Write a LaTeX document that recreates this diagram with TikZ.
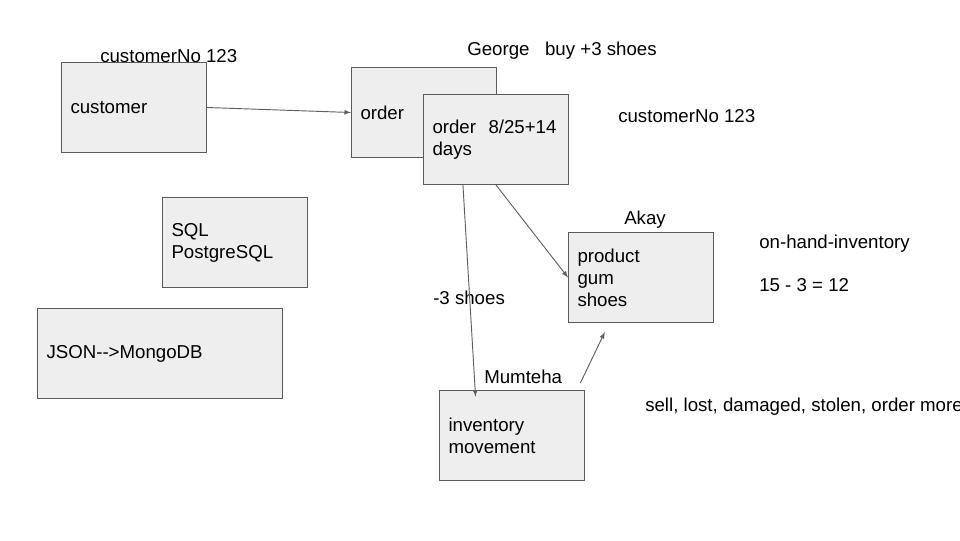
\documentclass[tikz,border=0pt]{standalone}
\usepackage{fontspec}
\setmainfont{Liberation Sans}
\definecolor{boxfill}{RGB}{238,238,238}
\definecolor{boxline}{RGB}{89,89,89}
\definecolor{arrline}{RGB}{95,95,95}
\begin{document}
\begin{tikzpicture}[x=0.75pt,y=-0.75pt,
  every node/.style={font=\fontsize{14}{16.5}\selectfont},
  box/.style={draw=boxline,fill=boxfill,line width=0.75pt,anchor=north west,
    minimum width=108.75pt,minimum height=67.5pt,text width=95.25pt,
    inner xsep=6.75pt,align=left},
  lbl/.style={anchor=base west,inner sep=0pt},
  arr/.style={draw=arrline,line width=0.7pt,-latex}]
      \useasboundingbox (0,0) rectangle (960,540);
      \node[box] (cust) at (61,62) {customer};
      \node[box] (ord) at (351,67) {order};
      \node[box] (ord2) at (423,94) {order~~8/25+14\\days};
      \node[box] (sql) at (162,197) {SQL\\PostgreSQL};
      \node[box,minimum width=183.75pt,text width=170.25pt] (json) at (37,308) {JSON-{}->MongoDB};
      \node[box] (prod) at (568,232) {product\\gum\\shoes};
      \node[box] (inv) at (439,390) {inventory\\movement};
      \node[lbl] (custno) at (100,62.5) {customerNo 123};
      \node[lbl] (george) at (467,55.5) {George~~~buy +3 shoes};
      \node[lbl] (custno2) at (618,122.5) {customerNo 123};
      \node[lbl] (akay) at (624,224.5) {Akay};
      \node[lbl] (onhand) at (759,248.5) {on-hand-inventory};
      \node[lbl] (count) at (759,291.5) {15 - 3 = 12};
      \node[lbl] (minus) at (433,304.5) {-3 shoes};
      \node[lbl] (mum) at (484,383.5) {Mumteha};
      \node[lbl] (reasons) at (645,411.5) {sell, lost, damaged, stolen, order more};
      \draw[arr] (cust.east) -- (ord.west);
      \draw[arr,shorten >=-5pt] (ord2.234) -- (inv.129);
      \draw[arr] (ord2.south) -- (prod.west);
      \draw[arr,shorten <=5.8pt,shorten >=7.5pt] (inv.35) -- (prod.235);
    \end{tikzpicture}
\end{document}
